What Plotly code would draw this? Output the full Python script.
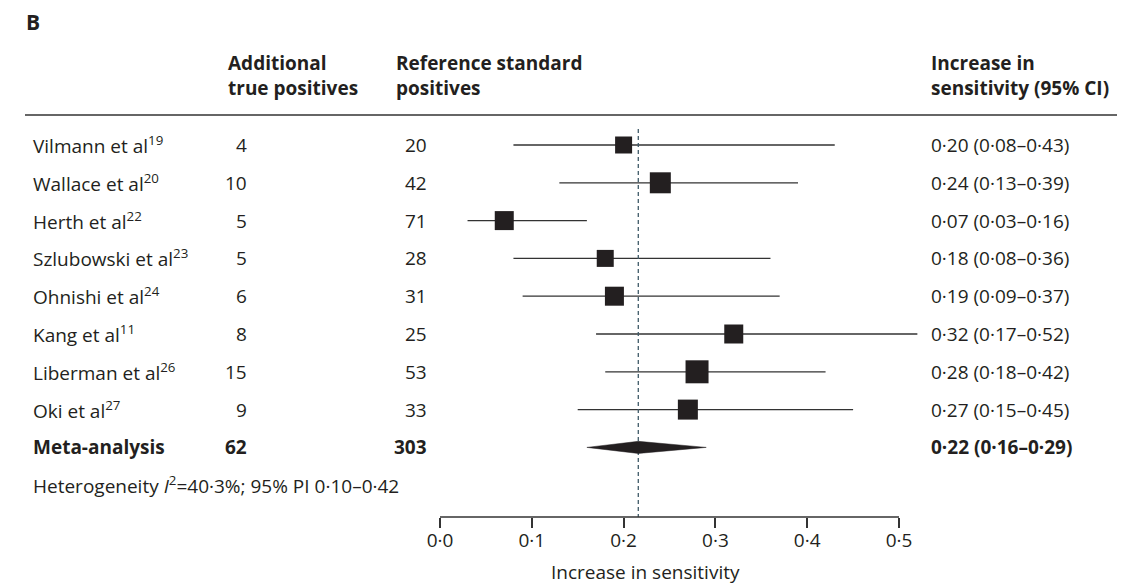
import plotly.graph_objects as go

# ---------------- data ----------------
studies = ["Vilmann et al", "Wallace et al", "Herth et al", "Szlubowski et al",
           "Ohnishi et al", "Kang et al", "Liberman et al", "Oki et al"]
refs = ["19", "20", "22", "23", "24", "11", "26", "27"]
add_tp = [4, 10, 5, 5, 6, 8, 15, 9]
ref_pos = [20, 42, 71, 28, 31, 25, 53, 33]
est = [0.20, 0.24, 0.07, 0.18, 0.19, 0.32, 0.28, 0.27]
ci_lo = [0.08, 0.13, 0.03, 0.08, 0.09, 0.17, 0.18, 0.15]
ci_hi = [0.43, 0.39, 0.16, 0.36, 0.37, 0.52, 0.42, 0.45]
weights = [17, 21, 19, 17, 19, 19, 23, 20]  # relative study weight (box size)

meta_label = "Meta-analysis"
meta_tp = 62
meta_pos = 303
meta_est = 0.216
meta_lo = 0.16
meta_hi = 0.29
heterogeneity = "Heterogeneity <i>I</i><sup>2</sup>=40·3%; 95% PI 0·10–0·42"

tick_vals = [0.0, 0.1, 0.2, 0.3, 0.4, 0.5]
tick_text = ["0·0", "0·1", "0·2", "0·3", "0·4", "0·5"]

col_headers = ["Additional<br>true positives", "Reference standard<br>positives",
               "Increase in<br>sensitivity (95% CI)"]
axis_title = "Increase in sensitivity"

# ---------------- layout helpers ----------------
OFF = 8                      # page body margin of the html page
W, H = 1145 - OFF, 587 - OFF
FONT = "Open Sans"
TXT = "#231f20"
LINE = "#333333"
fs = 19

plot_bottom_s = 517          # screen px of the axis line
row0_s, row_h = 145, 37.8
x0_s, x_scale = 440, 918.0   # screen px of value 0, px per unit


def fmt(v):
    return f"{v:.2f}".replace(".", "·")


def px(xs):
    return (xs - OFF) / W


def yrow(ys):
    return (ys - row0_s) / row_h


fig = go.Figure()

n = len(studies)
rows = list(range(n))

# CI whiskers
for i in range(n):
    fig.add_trace(go.Scatter(x=[ci_lo[i], ci_hi[i]], y=[rows[i], rows[i]], mode="lines",
                             line=dict(color=LINE, width=1.3), showlegend=False,
                             hoverinfo="skip"))

# dashed pooled line
fig.add_trace(go.Scatter(x=[meta_est, meta_est], y=[-0.42, yrow(plot_bottom_s)], mode="lines",
                         line=dict(color="#3f5a68", width=1.3, dash="4px,3px"),
                         showlegend=False, hoverinfo="skip"))

# squares
fig.add_trace(go.Scatter(x=est, y=rows, mode="markers",
                         marker=dict(symbol="square", size=weights, color="#231f20",
                                     opacity=1, line=dict(width=0)),
                         showlegend=False, hoverinfo="x"))

# diamond
dh = 0.16
fig.add_trace(go.Scatter(x=[meta_lo, meta_est, meta_hi, meta_est, meta_lo],
                         y=[n, n - dh, n, n + dh, n], mode="lines", fill="toself",
                         fillcolor="#231f20", line=dict(color="#231f20", width=0.5),
                         showlegend=False, hoverinfo="skip"))

ann = []


def add_text(text, xs, y, anchor="left", bold=False, size=fs, yref="y", color=TXT):
    if bold:
        text = f"<b>{text}</b>"
    ann.append(dict(text=text, x=px(xs), xref="paper", y=y, yref=yref,
                    xanchor=anchor, yanchor="middle", showarrow=False,
                    font=dict(family=FONT, size=size, color=color), align="left"))


# panel letter
add_text("B", 24, yrow(22), bold=True, size=21)

# headers
add_text(col_headers[0], 226, yrow(75), bold=True)
add_text(col_headers[1], 394, yrow(75), bold=True)
add_text(col_headers[2], 929, yrow(75), bold=True)

# study rows
for i in range(n):
    add_text(f"{studies[i]}<sup>{refs[i]}</sup>", 31, rows[i])
    add_text(str(add_tp[i]), 249, rows[i], anchor="right")
    add_text(str(ref_pos[i]), 429, rows[i], anchor="right")
    add_text(f"{fmt(est[i])} ({fmt(ci_lo[i])}–{fmt(ci_hi[i])})", 929, rows[i])

add_text(meta_label, 31, n, bold=True)
add_text(str(meta_tp), 249, n, anchor="right", bold=True)
add_text(str(meta_pos), 429, n, anchor="right", bold=True)
add_text(f"{fmt(meta_est)} ({fmt(meta_lo)}–{fmt(meta_hi)})", 929, n, bold=True)

add_text(heterogeneity, 31, n + 1)

# axis title
plot_h = plot_bottom_s - OFF
add_text(axis_title, 645, (plot_bottom_s - 572) / plot_h, anchor="center", yref="paper")

shapes = [
    dict(type="line", xref="paper", yref="y", x0=px(25), x1=px(1117),
         y0=yrow(115), y1=yrow(115), line=dict(color=LINE, width=1.6)),
    dict(type="line", xref="x", yref="paper", x0=0, x1=0.5, y0=0, y1=0,
         line=dict(color=LINE, width=1.5)),
]

fig.update_layout(
    width=W, height=H,
    margin=dict(l=0, r=0, t=0, b=H - plot_h),
    paper_bgcolor="white", plot_bgcolor="white",
    xaxis=dict(domain=[0, 1],
               range=[(OFF - x0_s) / x_scale, (OFF + W - x0_s) / x_scale],
               showgrid=False, zeroline=False, showline=False,
               tickmode="array", tickvals=tick_vals, ticktext=tick_text,
               ticks="outside", ticklen=10, tickwidth=1.5, tickcolor=LINE,
               ticklabelstandoff=-4,
               tickfont=dict(family=FONT, size=fs, color=TXT)),
    yaxis=dict(domain=[0, 1], range=[yrow(plot_bottom_s), yrow(OFF)], visible=False),
    annotations=ann, shapes=shapes,
)

fig.write_html("out.html")
